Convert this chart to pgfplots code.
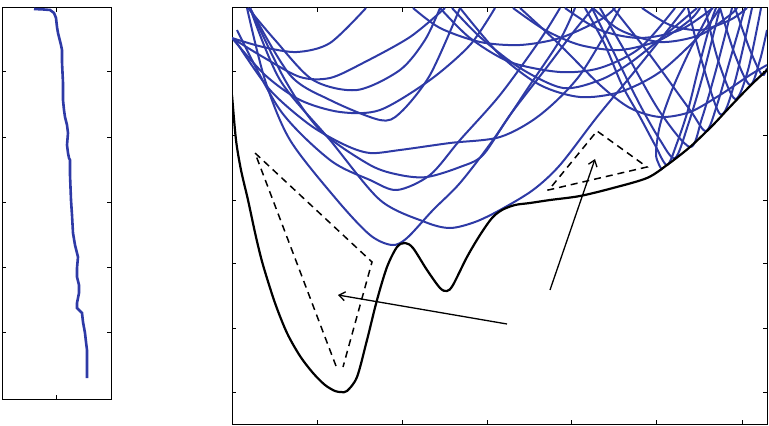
\documentclass[border=0pt]{standalone}
\usepackage{pgfplots}
\pgfplotsset{compat=1.18}
\usetikzlibrary{arrows.meta}
\definecolor{cblue}{RGB}{46,58,166}
\begin{document}
\begin{tikzpicture}
\useasboundingbox (0,0) rectangle (769bp,426bp);
% ---------- left panel ----------
\begin{axis}[at={(2bp,27bp)}, anchor=south west, scale only axis,
  width=109bp, height=391bp,
  xmin=2, xmax=111, ymin=8, ymax=399, y dir=reverse,
  xtick={56}, ytick={72,137,202,267,332},
  xticklabels={}, yticklabels={},
  tick align=inside, major tick length=4bp,
  axis line style={line width=1bp}, every tick/.style={line width=1bp, black}]
\addplot[cblue, line width=2.6bp] coordinates {
(34,9) (44,9.5) (50,10) (54,13) (56,18) (57,27) (58,33) (59,37) (61,45) (62,50) (62,62) (63,83) (63,100) (64,110) (65,117) (67,125) (68,133) (67,145) (68,153) (69,158) (70,160) (70,175) (71,200) (72,215) (73,233) (75,245) (78,257) (77,268) (77,277) (79,285) (79,293) (77,303) (77,308) (80,311) (82,313) (83,322) (85,333) (86,342) (87,350) (87,365) (87,378)};
\end{axis}
% ---------- right panel ----------
\begin{axis}[at={(232bp,2bp)}, anchor=south west, scale only axis,
  width=535bp, height=416bp,
  xmin=232, xmax=767, ymin=8, ymax=424, y dir=reverse,
  xtick={317,402,487,571,656,742}, ytick={72,135,200,263,328,392},
  xticklabels={}, yticklabels={},
  tick align=inside, major tick length=4bp,
  axis line style={line width=1bp}, every tick/.style={line width=1bp, black}]
\pgfplotsset{every axis plot/.append style={smooth, tension=0.5}}
\tikzset{bl/.style={cblue, line width=2bp}}
% left fan
\addplot[bl] coordinates {(232,38) (263,47) (297,52) (330,43) (366,8)};
\addplot[bl] coordinates {(232,38) (263,57) (300,77) (330,78) (363,63) (410,37) (445,8)};
\addplot[bl] coordinates {(232,38) (265,75) (300,100) (340,112) (380,110) (430,80) (470,45) (495,8)};
\addplot[bl] coordinates {(248,8) (275,40) (313,80) (357,90) (400,70) (425,40) (440,8)};
\addplot[bl] coordinates {(250,8) (290,75) (330,100) (380,120) (400,113) (430,75) (460,8)};
\addplot[bl] coordinates {(235,40) (270,90) (310,125) (345,145) (370,153) (400,150) (450,143) (500,137) (540,115) (580,75) (620,8)};
\addplot[bl] coordinates {(250,8) (285,80) (320,130) (370,165) (400,175) (427,177) (460,167) (483,155) (510,115) (547,67) (575,30) (593,8)};
\addplot[bl] coordinates {(247,8) (265,80) (290,140) (337,200) (370,235) (392,245) (407,238) (433,210) (460,183) (493,140) (530,85) (560,40) (575,8)};
\addplot[bl] coordinates {(250,8) (280,80) (330,140) (380,200) (425,222) (450,228) (475,222) (500,210) (533,190) (560,165) (597,117) (630,77) (660,40) (685,8)};
\addplot[bl] coordinates {(237,30) (280,110) (330,160) (370,180) (397,190) (430,175) (460,140) (500,95) (540,40) (560,8)};
% upper right arches
\addplot[bl] coordinates {(413,8) (440,28) (480,42) (520,45) (560,38) (600,20) (615,8)};
\addplot[bl] coordinates {(440,8) (470,38) (510,62) (560,72) (600,68) (640,48) (675,8)};
\addplot[bl] coordinates {(452,8) (480,37) (520,68) (563,88) (600,80) (630,63) (665,35) (697,8)};
\addplot[bl] coordinates {(460,8) (500,55) (540,85) (580,97) (620,92) (660,72) (700,35) (720,8)};
\addplot[bl] coordinates {(520,8) (560,45) (600,85) (630,108) (660,117) (690,112) (720,95) (750,75) (767,65)};
\addplot[bl] coordinates {(513,8) (545,30) (580,45) (620,50) (660,40) (690,20) (700,8)};
\addplot[bl] coordinates {(593,8) (620,30) (660,42) (700,35) (730,15) (737,8)};
\addplot[bl] coordinates {(642,8) (670,25) (700,30) (730,20) (747,8)};
\addplot[bl] coordinates {(565,8) (600,30) (640,38) (680,30) (713,8)};
% V curves on the envelope
\addplot[bl] coordinates {(585,8) (605,45) (622,85) (640,117) (655,145) (667,165) (677,143) (688,110) (698,70) (710,25) (716,8)};
\addplot[bl] coordinates {(592,8) (615,55) (640,105) (660,140) (675,158) (688,125) (703,75) (720,8)};
\addplot[bl] coordinates {(600,8) (630,60) (660,112) (690,147) (702,118) (716,70) (732,8)};
\addplot[bl] coordinates {(613,8) (650,55) (690,110) (706,131) (717,105) (730,60) (745,8)};
\addplot[bl] coordinates {(688,8) (700,55) (720,114) (734,85) (752,8)};
\addplot[bl] coordinates {(705,8) (718,60) (735,99) (748,70) (761,8)};
\addplot[bl] coordinates {(720,8) (735,55) (750,85) (760,60) (767,30)};
\addplot[bl] coordinates {(735,8) (750,50) (762,75) (767,68)};
\addplot[bl] coordinates {(712,8) (690,50) (672,90) (660,125) (656,155) (662,170)};
% black envelope
\addplot[black, line width=2.2bp] coordinates {
(232,95) (236,140) (241,170) (248,200) (256,237) (263,265) (275,303) (287,333) (300,356) (313,373) (325,385) (335,391) (341,392) (347,391) (357,377) (367,340) (377,300) (387,267) (397,247) (405,243) (413,248) (427,270) (440,288) (447,291) (453,285) (467,257) (480,235) (492,218) (502,210) (515,205) (530,203) (550,200) (580,196) (613,188) (647,178) (667,165) (690,147) (713,125) (727,110) (750,86) (767,70)};
% dashed triangles
\addplot[black, line width=1.5bp, dash pattern=on 7bp off 5bp, sharp plot] coordinates {(336,366) (255,153) (372,262) (343,367)};
\addplot[black, line width=1.5bp, dash pattern=on 7bp off 5bp, sharp plot] coordinates {(552,186) (597,131) (647,167) (544,191)};
% arrows
\addplot[black, line width=1.3bp, sharp plot, -{Straight Barb[length=6bp,width=9bp]}] coordinates {(507,324) (338,295)};
\addplot[black, line width=1.3bp, sharp plot, -{Straight Barb[length=6bp,width=9bp]}] coordinates {(550,290) (595,159)};
\end{axis}
\end{tikzpicture}
\end{document}
